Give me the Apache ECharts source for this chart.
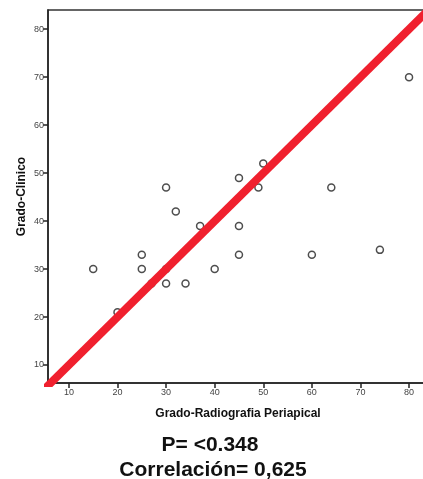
<!DOCTYPE html>
<html>
<head>
<meta charset="utf-8">
<script src="https://cdn.jsdelivr.net/npm/echarts@6/dist/echarts.min.js"></script>
<style>
html,body{margin:0;padding:0;background:#fff;overflow:hidden;}
#c{width:423px;height:479px;}
</style>
</head>
<body>
<div id="c"></div>
<script>
const xTitle = 'Grado-Radiografia Periapical';
const yTitle = 'Grado-Clinico';
const xTicks = [10, 20, 30, 40, 50, 60, 70, 80];
const yTicks = [10, 20, 30, 40, 50, 60, 70, 80];
const radiografia = [15, 20, 25, 25, 27, 30, 30, 30, 32, 34, 37, 40, 45, 45, 45, 49, 50, 60, 64, 74, 80];
const clinico     = [30, 21, 33, 30, 27, 30, 27, 47, 42, 27, 39, 30, 49, 39, 33, 47, 52, 33, 47, 34, 70];
const refLineX = [0, 90];
const refLineY = [0, 90];
const textP = 'P= <0.348';
const textCorr = 'Correlación= 0,625';

const points = radiografia.map((x, i) => [x, clinico[i]]);
const refLine = refLineX.map((x, i) => [x, refLineY[i]]);

const FONT = 'Liberation Sans, Arial, sans-serif';
const chart = echarts.init(document.getElementById('c'));
const axisCommon = {
  type: 'value',
  splitLine: {show: false},
  axisLine: {show: true, onZero: false, lineStyle: {color: '#222', width: 1.5}},
  nameLocation: 'middle',
  nameMoveOverlap: false,
  nameTextStyle: {color: '#111', fontSize: 12, fontWeight: 'bold', fontFamily: FONT}
};
chart.setOption({
  backgroundColor: '#fff',
  animation: false,
  grid: {left: 48, top: 10, width: 380, height: 373, show: true, borderColor: '#333', borderWidth: 1.5,
         backgroundColor: 'transparent', outerBoundsMode: 'none', containLabel: false},
  xAxis: Object.assign({}, axisCommon, {
    min: 5.7, max: 83.9,
    name: xTitle, nameGap: 25,
    axisTick: {show: true, inside: false, length: 5, customValues: xTicks, lineStyle: {color: '#222', width: 1.5}},
    axisLabel: {color: '#444', fontSize: 9, fontFamily: FONT, margin: 5, customValues: xTicks}
  }),
  yAxis: Object.assign({}, axisCommon, {
    min: 6.25, max: 84,
    name: yTitle, nameGap: 20,
    axisTick: {show: true, inside: false, length: 5, customValues: yTicks, lineStyle: {color: '#222', width: 1.5}},
    axisLabel: {color: '#444', fontSize: 9, fontFamily: FONT, margin: 4, customValues: yTicks}
  }),
  graphic: [
    {type: 'text', x: 210, y: 445, style: {text: textP, fill: '#111', font: 'bold 21px ' + FONT, align: 'center', verticalAlign: 'middle'}},
    {type: 'text', x: 213, y: 470, style: {text: textCorr, fill: '#111', font: 'bold 21px ' + FONT, align: 'center', verticalAlign: 'middle'}}
  ],
  series: [
    {
      type: 'scatter',
      data: points,
      symbol: 'circle',
      symbolSize: 7,
      itemStyle: {color: '#fff', borderColor: '#222', borderWidth: 1.5},
      z: 2
    },
    {
      type: 'line',
      data: refLine,
      showSymbol: false,
      clip: true,
      lineStyle: {color: '#f0202e', width: 8},
      z: 3
    }
  ]
});
</script>
</body>
</html>
